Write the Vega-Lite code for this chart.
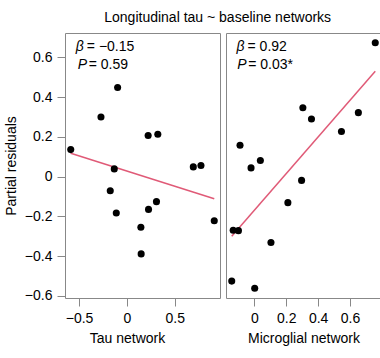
{
  "$schema": "https://vega.github.io/schema/vega-lite/v6.json",
  "autosize": {"type": "pad"},
  "padding": {"left": 3, "top": 10, "right": 0, "bottom": 0},
  "background": "white",
  "title": {"text": "Longitudinal tau ~ baseline networks", "fontSize": 14, "fontWeight": "normal", "font": "Liberation Sans", "color": "black", "anchor": "middle", "dx": 25, "offset": 8},
  "config": {
    "font": "Liberation Sans",
    "view": {"stroke": "#888888", "strokeWidth": 1},
    "axis": {"domain": false, "grid": false, "tickColor": "#888888", "tickSize": 8, "labelColor": "black", "labelFontSize": 14, "labelFont": "Liberation Sans", "labelPadding": 5, "titleFontSize": 14, "titleFontWeight": "normal", "titleColor": "black", "titleFont": "Liberation Sans", "format": "~g", "labelFlush": false, "labelOverlap": false}
  },
  "datasets": {
    "tau": [
      {"x": -0.587, "y": 0.136}, {"x": -0.271, "y": 0.300}, {"x": -0.097, "y": 0.449},
      {"x": -0.132, "y": 0.039}, {"x": -0.174, "y": -0.071}, {"x": -0.111, "y": -0.183},
      {"x": 0.222, "y": 0.207}, {"x": 0.323, "y": 0.213}, {"x": 0.226, "y": -0.165},
      {"x": 0.309, "y": -0.126}, {"x": 0.146, "y": -0.255}, {"x": 0.149, "y": -0.389},
      {"x": 0.694, "y": 0.049}, {"x": 0.774, "y": 0.056}, {"x": 0.913, "y": -0.222}
    ],
    "tauFit": [{"x": -0.587, "y": 0.118}, {"x": 0.913, "y": -0.111}],
    "micro": [
      {"x": 0.758, "y": 0.674}, {"x": 0.304, "y": 0.347}, {"x": 0.358, "y": 0.290},
      {"x": 0.652, "y": 0.322}, {"x": 0.546, "y": 0.227}, {"x": -0.090, "y": 0.158},
      {"x": -0.021, "y": 0.044}, {"x": 0.0375, "y": 0.081}, {"x": 0.296, "y": -0.019},
      {"x": 0.210, "y": -0.131}, {"x": -0.133, "y": -0.270}, {"x": -0.100, "y": -0.272},
      {"x": 0.104, "y": -0.332}, {"x": -0.142, "y": -0.526}, {"x": 0.002, "y": -0.562}
    ],
    "microFit": [{"x": -0.142, "y": -0.300}, {"x": 0.758, "y": 0.530}],
    "tauLab": [{"x": -0.534, "y": 0.652, "sym": "β", "rest": "= −0.15"}, {"x": -0.514, "y": 0.563, "sym": "P", "rest": "= 0.59"}],
    "microLab": [{"x": -0.112, "y": 0.652, "sym": "β", "rest": "= 0.92"}, {"x": -0.108, "y": 0.563, "sym": "P", "rest": "= 0.03*"}]
  },
  "spacing": 4,
  "hconcat": [
    {
      "width": 155, "height": 265,
      "layer": [
        {"data": {"name": "tauFit"}, "mark": {"type": "line", "color": "#e05a77", "strokeWidth": 1.5},
         "encoding": {"x": {"field": "x", "type": "quantitative", "scale": {"domain": [-0.647, 0.973], "nice": false, "zero": false},
                            "axis": {"title": "Tau network", "values": [-0.5, 0, 0.5], "titleX": 62, "titlePadding": 6}},
                      "y": {"field": "y", "type": "quantitative", "scale": {"domain": [-0.611, 0.723], "nice": false, "zero": false},
                            "axis": {"title": "Partial residuals", "values": [-0.6, -0.4, -0.2, 0, 0.2, 0.4, 0.6], "titlePadding": 6}}}},
        {"data": {"name": "tau"}, "mark": {"type": "circle", "color": "black", "opacity": 1, "size": 50},
         "encoding": {"x": {"field": "x", "type": "quantitative"}, "y": {"field": "y", "type": "quantitative"}}},
        {"data": {"name": "tauLab"}, "mark": {"type": "text", "fontStyle": "italic", "fontSize": 14, "align": "left", "baseline": "middle", "color": "black"},
         "encoding": {"x": {"field": "x", "type": "quantitative"}, "y": {"field": "y", "type": "quantitative"}, "text": {"field": "sym"}}},
        {"data": {"name": "tauLab"}, "mark": {"type": "text", "fontSize": 14, "align": "left", "baseline": "middle", "color": "black", "dx": 11},
         "encoding": {"x": {"field": "x", "type": "quantitative"}, "y": {"field": "y", "type": "quantitative"}, "text": {"field": "rest"}}}
      ]
    },
    {
      "width": 155, "height": 265,
      "layer": [
        {"data": {"name": "microFit"}, "mark": {"type": "line", "color": "#e05a77", "strokeWidth": 1.5},
         "encoding": {"x": {"field": "x", "type": "quantitative", "scale": {"domain": [-0.178, 0.794], "nice": false, "zero": false},
                            "axis": {"title": "Microglial network", "values": [0, 0.2, 0.4, 0.6], "titlePadding": 6}},
                      "y": {"field": "y", "type": "quantitative", "scale": {"domain": [-0.611, 0.723], "nice": false, "zero": false}, "axis": null}}},
        {"data": {"name": "micro"}, "mark": {"type": "circle", "color": "black", "opacity": 1, "size": 50},
         "encoding": {"x": {"field": "x", "type": "quantitative"}, "y": {"field": "y", "type": "quantitative"}}},
        {"data": {"name": "microLab"}, "mark": {"type": "text", "fontStyle": "italic", "fontSize": 14, "align": "left", "baseline": "middle", "color": "black"},
         "encoding": {"x": {"field": "x", "type": "quantitative"}, "y": {"field": "y", "type": "quantitative"}, "text": {"field": "sym"}}},
        {"data": {"name": "microLab"}, "mark": {"type": "text", "fontSize": 14, "align": "left", "baseline": "middle", "color": "black", "dx": 11},
         "encoding": {"x": {"field": "x", "type": "quantitative"}, "y": {"field": "y", "type": "quantitative"}, "text": {"field": "rest"}}}
      ]
    }
  ]
}
